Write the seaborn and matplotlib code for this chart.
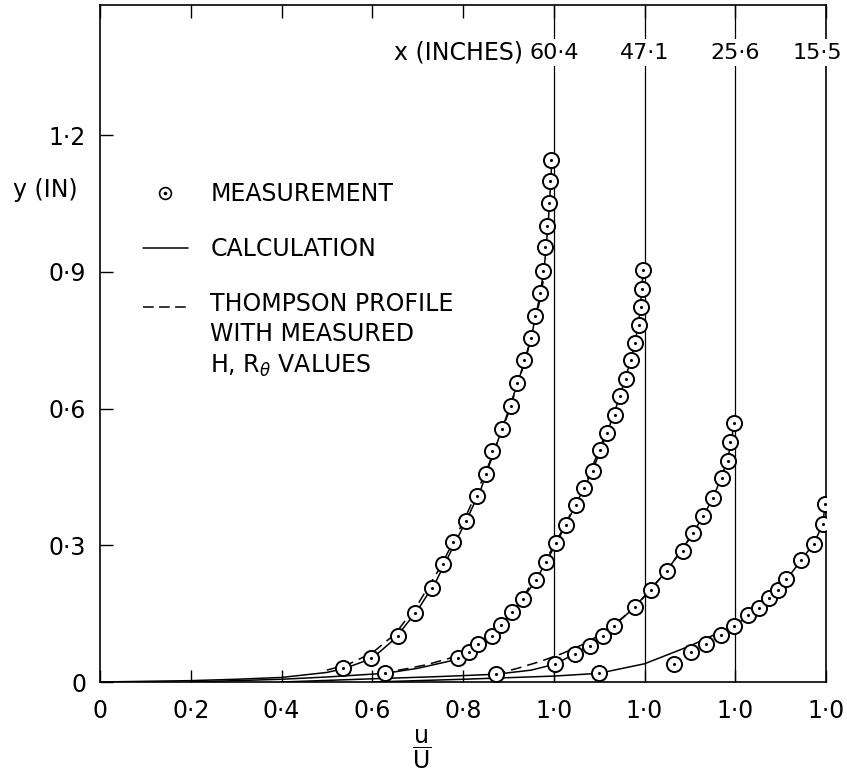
import numpy as np
import matplotlib
matplotlib.use("Agg")
import matplotlib.pyplot as plt
import seaborn as sns
from matplotlib.lines import Line2D
from matplotlib.legend_handler import HandlerLine2D

# stations along the plate, x (inches), and the shift of each profile's u/U origin
stations = ["60·4", "47·1", "25·6", "15·5"]
origin_shift = [0.0, 0.2, 0.4, 0.6]

# measured profiles (u/U, y in inches)
meas_u_604 = [0.536, 0.597, 0.656, 0.695, 0.732, 0.756, 0.777, 0.807, 0.831, 0.851, 0.865, 0.887,
              0.906, 0.919, 0.935, 0.950, 0.959, 0.969, 0.976, 0.981, 0.986, 0.990, 0.992, 0.994]
meas_y_604 = [0.030, 0.053, 0.102, 0.152, 0.206, 0.259, 0.307, 0.353, 0.409, 0.457, 0.507, 0.555,
              0.606, 0.656, 0.707, 0.756, 0.804, 0.853, 0.903, 0.954, 1.002, 1.052, 1.100, 1.146]
meas_u_471 = [0.428, 0.589, 0.613, 0.633, 0.665, 0.684, 0.707, 0.733, 0.760, 0.782, 0.806, 0.826, 0.849,
              0.866, 0.886, 0.903, 0.917, 0.936, 0.945, 0.959, 0.970, 0.980, 0.987, 0.993, 0.994, 0.996]
meas_y_471 = [0.019, 0.052, 0.065, 0.083, 0.102, 0.125, 0.154, 0.182, 0.224, 0.263, 0.306, 0.345, 0.389,
              0.425, 0.463, 0.509, 0.547, 0.586, 0.628, 0.664, 0.707, 0.745, 0.784, 0.824, 0.863, 0.904]
meas_u_256 = [0.472, 0.602, 0.647, 0.680, 0.708, 0.732, 0.778, 0.814, 0.849, 0.884, 0.907, 0.928,
              0.951, 0.971, 0.983, 0.989, 0.998]
meas_y_256 = [0.017, 0.039, 0.062, 0.080, 0.101, 0.123, 0.164, 0.203, 0.244, 0.288, 0.326, 0.365,
              0.403, 0.447, 0.486, 0.526, 0.568]
meas_u_155 = [0.499, 0.664, 0.702, 0.736, 0.769, 0.797, 0.828, 0.853, 0.875, 0.894, 0.912, 0.945,
              0.973, 0.993, 0.997]
meas_y_155 = [0.019, 0.040, 0.065, 0.083, 0.103, 0.123, 0.146, 0.162, 0.185, 0.202, 0.225, 0.267,
              0.304, 0.346, 0.390]

# calculated profiles (solid)
calc_u_604 = [0.0, 0.2, 0.3, 0.4, 0.5, 0.54, 0.6, 0.65, 0.70, 0.74, 0.78, 0.81, 0.84, 0.87,
              0.90, 0.925, 0.95, 0.97, 0.98, 0.988, 0.993, 0.996]
calc_y_604 = [0.0, 0.003, 0.006, 0.010, 0.021, 0.030, 0.052, 0.095, 0.158, 0.220, 0.300, 0.360, 0.425, 0.510,
              0.595, 0.670, 0.755, 0.850, 0.920, 1.010, 1.090, 1.150]
calc_u_471 = [0.0, 0.1, 0.2, 0.3, 0.428, 0.5, 0.589, 0.633, 0.665, 0.707, 0.760, 0.806, 0.849,
              0.886, 0.917, 0.945, 0.970, 0.987, 0.994, 0.997]
calc_y_471 = [0.0, 0.003, 0.006, 0.011, 0.019, 0.030, 0.050, 0.080, 0.102, 0.150, 0.222, 0.305, 0.390,
              0.465, 0.545, 0.625, 0.707, 0.785, 0.860, 0.905]
calc_u_256 = [0.0, 0.2, 0.35, 0.472, 0.55, 0.602, 0.647, 0.708, 0.778, 0.849, 0.907, 0.951, 0.983, 0.998]
calc_y_256 = [0.0, 0.007, 0.012, 0.017, 0.026, 0.039, 0.062, 0.101, 0.164, 0.244, 0.326, 0.403, 0.486, 0.568]
calc_u_155 = [0.0, 0.2, 0.4, 0.499, 0.6, 0.7, 0.8, 0.85, 0.9, 0.945, 0.973, 0.993, 0.998]
calc_y_155 = [0.0, 0.006, 0.013, 0.019, 0.040, 0.079, 0.125, 0.160, 0.208, 0.267, 0.304, 0.346, 0.390]

# Thompson profile with measured H, R_theta (dashed)
thom_u_604 = [0.50, 0.55, 0.60, 0.65, 0.70, 0.75, 0.80, 0.85, 0.90, 0.94, 0.97, 0.985]
thom_y_604 = [0.026, 0.040, 0.064, 0.105, 0.170, 0.252, 0.350, 0.460, 0.590, 0.715, 0.840, 0.930]
thom_u_471 = [0.42, 0.47, 0.52, 0.57, 0.62, 0.67, 0.72, 0.77, 0.82, 0.87, 0.92]
thom_y_471 = [0.020, 0.028, 0.038, 0.052, 0.072, 0.110, 0.168, 0.245, 0.335, 0.435, 0.560]
thom_u_256 = [0.47, 0.52, 0.57, 0.62, 0.67, 0.72, 0.78, 0.85, 0.91]
thom_y_256 = [0.017, 0.030, 0.045, 0.063, 0.085, 0.115, 0.165, 0.245, 0.330]

meas = [(meas_u_604, meas_y_604), (meas_u_471, meas_y_471), (meas_u_256, meas_y_256), (meas_u_155, meas_y_155)]
calc = [(calc_u_604, calc_y_604), (calc_u_471, calc_y_471), (calc_u_256, calc_y_256), (calc_u_155, calc_y_155)]
thom = [(thom_u_604, thom_y_604), (thom_u_471, thom_y_471), (thom_u_256, thom_y_256)]

x_ticks = [0, 0.2, 0.4, 0.6, 0.8, 1.0, 1.2, 1.4, 1.6]
x_ticklabels = ["0", "0·2", "0·4", "0·6", "0·8", "1·0", "1·0", "1·0", "1·0"]
y_ticks = [0, 0.3, 0.6, 0.9, 1.2]
y_ticklabels = ["0", "0·3", "0·6", "0·9", "1·2"]

sns.set_style("ticks")
plt.rcParams["font.family"] = ["DejaVu Sans"]
plt.rcParams["mathtext.fontset"] = "dejavusans"
plt.rcParams["text.color"] = "black"
plt.rcParams["axes.labelcolor"] = "black"

FS = 17
DASH = (0, (7, 4))

fig = plt.figure(figsize=(8.47, 7.73), dpi=100)
ax = fig.add_axes([100 / 847, 1 - 682 / 773, 726 / 847, 677 / 773])

for xv in [1.0, 1.2, 1.4]:
    ax.axvline(xv, color="black", lw=0.9, zorder=1.5)

for (u, y), sh in zip(calc, origin_shift):
    sns.lineplot(x=np.array(u) + sh, y=y, sort=False, estimator=None, color="black", lw=1.1, ax=ax, zorder=2)
for (u, y), sh in zip(thom, origin_shift):
    sns.lineplot(x=np.array(u) + sh, y=y, sort=False, estimator=None, color="black", lw=1.1,
                 linestyle=DASH, ax=ax, zorder=2)
for (u, y), sh in zip(meas, origin_shift):
    xs = np.array(u) + sh
    sns.scatterplot(x=xs, y=y, s=118, color="white", edgecolor="black", linewidth=1.4, ax=ax, zorder=4)
    sns.scatterplot(x=xs, y=y, s=5, color="black", linewidth=0, ax=ax, zorder=5)

ax.set_xlim(0, 1.6)
ax.set_ylim(0, 1.486)
ax.set_xticks(x_ticks)
ax.set_xticklabels(x_ticklabels)
ax.set_yticks(y_ticks)
ax.set_yticklabels(y_ticklabels)
ax.tick_params(axis="both", direction="in", length=9, width=1.0, labelsize=FS, colors="black")
ax.tick_params(axis="x", top=True, pad=12)
ax.tick_params(axis="y", pad=10)
for sp in ax.spines.values():
    sp.set_visible(True)
    sp.set_linewidth(1.2)
    sp.set_color("black")

ax.set_ylabel("y (IN)", rotation=0, fontsize=FS, ha="center", va="center")
ax.yaxis.set_label_coords(-0.076, 0.727)
ax.set_xlabel(r"$\dfrac{\mathrm{u}}{\mathrm{U}}$", fontsize=17, va="center")
ax.xaxis.set_label_coords(0.4435, -0.099)

# station labels across the top; the last one is nudged left so it stays on the canvas
ax.text(0.933, 1.381, "x (INCHES)", fontsize=FS, ha="right", va="center")
nudge = [0, 0, 0, -6]
for lab, sh, dx in zip(stations, origin_shift, nudge):
    ax.annotate(lab, xy=(1.0 + sh, 1.381), xytext=(dx, 0), textcoords="offset points",
                fontsize=16, ha="center", va="center", zorder=6, annotation_clip=False,
                bbox=dict(facecolor="white", edgecolor="none", pad=2.5))


class TopLineHandler(HandlerLine2D):
    """Draw the key level with the first line of a multi-line label."""
    def __init__(self, shift, **kw):
        super().__init__(**kw)
        self.shift = shift

    def create_artists(self, legend, orig_handle, xdescent, ydescent, width, height, fontsize, trans):
        arts = super().create_artists(legend, orig_handle, xdescent, ydescent, width, height, fontsize, trans)
        for a in arts:
            a.set_ydata(np.asarray(a.get_ydata(), float) + self.shift * fontsize)
        return arts


h_meas = (Line2D([], [], marker="o", ls="none", mfc="white", mec="black", ms=8.5, mew=1.2),
          Line2D([], [], marker="o", ls="none", color="black", ms=1.6))
h_calc = Line2D([], [], color="black", lw=1.1)
h_thom = Line2D([], [], color="black", lw=1.1, ls=(0, (7, 3.5)))
leg = ax.legend([h_meas, h_calc, h_thom],
                ["MEASUREMENT", "CALCULATION", "THOMPSON PROFILE\nWITH MEASURED\nH, R$_{\\theta}$ VALUES"],
                handler_map={h_thom: TopLineHandler(1.27)},
                loc="upper left", bbox_to_anchor=(0.059, 0.738), frameon=False, fontsize=FS,
                handlelength=1.9, handletextpad=0.95, labelspacing=1.3, borderpad=0, borderaxespad=0,
                numpoints=1)
for t in leg.get_texts():
    t.set_linespacing(1.34)
    t.set_color("black")

plt.savefig("out.png", dpi=100)
plt.close()
